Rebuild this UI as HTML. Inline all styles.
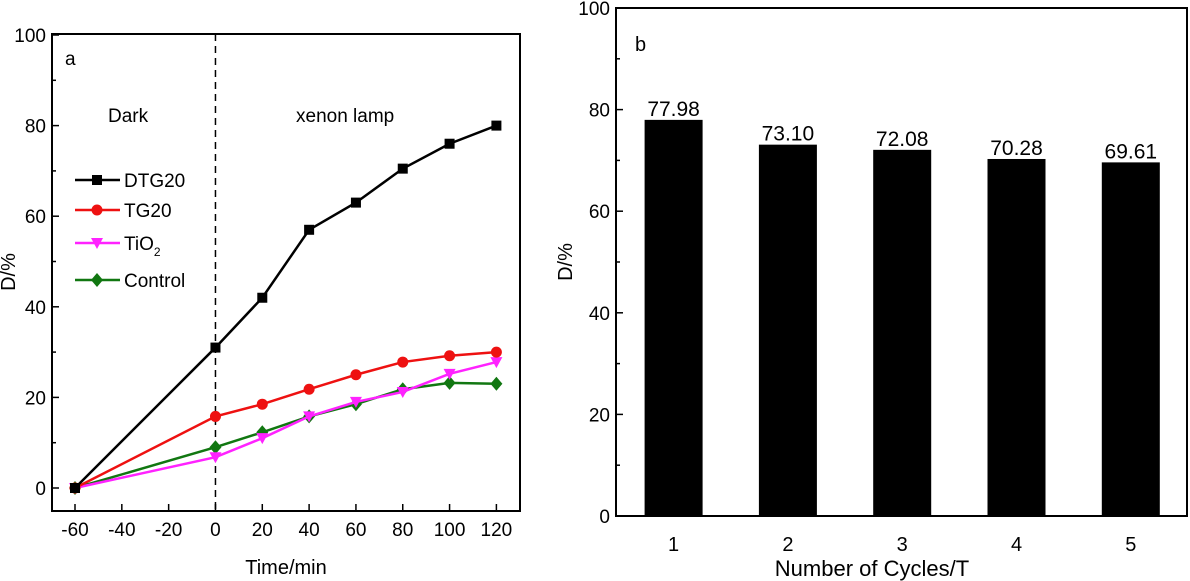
<!DOCTYPE html>
<html><head><meta charset="utf-8">
<style>
html,body{margin:0;padding:0;background:#fff;}
svg{display:block;font-family:"Liberation Sans",Arial,sans-serif;}
</style></head>
<body>
<svg id="chart" width="1190" height="581" viewBox="0 0 1190 581" xmlns="http://www.w3.org/2000/svg"></svg>
<script>
const timeCats = [-60, 0, 20, 40, 60, 80, 100, 120];
const dtg20 = [0, 31, 42, 57, 63, 70.5, 76, 80];
const tg20 = [0, 15.8, 18.5, 21.8, 25, 27.8, 29.2, 30];
const tio2 = [0, 6.8, 11, 15.8, 19, 21.2, 25.2, 27.8];
const control = [0, 9, 12.3, 15.8, 18.5, 21.8, 23.2, 23];
const xTicksA = [-60, -40, -20, 0, 20, 40, 60, 80, 100, 120];
const yTicks = [0, 20, 40, 60, 80, 100];
const cycles = ["1", "2", "3", "4", "5"];
const cycleValues = [77.98, 73.10, 72.08, 70.28, 69.61];
const cycleLabels = ["77.98", "73.10", "72.08", "70.28", "69.61"];

const NS = "http://www.w3.org/2000/svg";
const svg = document.getElementById("chart");
function mk(tag, attrs, parent, text) {
  const e = document.createElementNS(NS, tag);
  for (const k in attrs) e.setAttribute(k, attrs[k]);
  if (text !== undefined) e.textContent = text;
  (parent || svg).appendChild(e);
  return e;
}

// ---- Panel A ----
const A = {l: 52, r: 520, t: 34, b: 511};
const xa = v => 75 + (v + 60) * (496.4 - 75) / 180;
const ya = v => 488 - v * 4.53;
const gA = mk("g", {});


let e = mk("rect", {x: A.l, y: A.t, width: A.r - A.l, height: A.b - A.t, fill: "none", stroke: "#000", "stroke-width": 2}, gA);


// y ticks
for (let v = 0; v <= 100; v += 10) {
  const major = v % 20 === 0;
  mk("line", {x1: A.l, x2: A.l + (major ? 7 : 4), y1: ya(v), y2: ya(v), stroke: "#000", "stroke-width": 1.5}, gA);
}
yTicks.forEach(v => {
  const t = mk("text", {x: A.l - 6, y: ya(v) + 7, "text-anchor": "end", "font-size": 19}, gA, String(v));
  
  
});
for (let v = -60; v <= 120; v += 20) {
  mk("line", {x1: xa(v), x2: xa(v), y1: A.b, y2: A.b - 7, stroke: "#000", "stroke-width": 1.5}, gA);
}
xTicksA.forEach(v => {
  const t = mk("text", {x: xa(v), y: 536, "text-anchor": "middle", "font-size": 19}, gA, String(v));
  
  
});
e = mk("text", {x: 286, y: 574, "text-anchor": "middle", "font-size": 20}, gA, "Time/min");


e = mk("text", {x: 0, y: 0, "text-anchor": "middle", "font-size": 20, transform: "translate(15,272) rotate(-90)"}, gA, "D/%");


e = mk("line", {x1: xa(0), x2: xa(0), y1: A.t, y2: A.b, stroke: "#000", "stroke-width": 1.5, "stroke-dasharray": "7,5"}, gA);


e = mk("text", {x: 65, y: 65, "font-size": 19}, gA, "a");


e = mk("text", {x: 108, y: 122, "font-size": 19}, gA, "Dark");


e = mk("text", {x: 296, y: 122, "font-size": 19}, gA, "xenon lamp");



function marker(g, shape, x, y, c) {
  let m;
  if (shape === "square") m = mk("rect", {x: x - 5, y: y - 5, width: 10, height: 10, fill: c}, g);
  else if (shape === "circle") m = mk("circle", {cx: x, cy: y, r: 5.5, fill: c}, g);
  else if (shape === "tri") m = mk("polygon", {points: `${x-6},${y-5} ${x+6},${y-5} ${x},${y+6}`, fill: c}, g);
  else m = mk("polygon", {points: `${x},${y-7} ${x+6},${y} ${x},${y+7} ${x-6},${y}`, fill: c}, g);
  
  
}
const series = [
  {name: "DTG20", vals: dtg20, color: "#000000", shape: "square", ly: 180},
  {name: "TG20", vals: tg20, color: "#ee1111", shape: "circle", ly: 210},
  {name: "TiO2", vals: tio2, color: "#ff22ff", shape: "tri", ly: 243},
  {name: "Control", vals: control, color: "#117711", shape: "diamond", ly: 280}
];
series.slice().reverse().forEach(s => {
  const g = mk("g", {}, gA);
  
  
  const pts = timeCats.map((t, i) => xa(t) + "," + ya(s.vals[i])).join(" ");
  mk("polyline", {points: pts, fill: "none", stroke: s.color, "stroke-width": 2.5}, g);
  timeCats.forEach((t, i) => marker(g, s.shape, xa(t), ya(s.vals[i]), s.color));
});
series.forEach(s => {
  const g = mk("g", {}, gA);
  
  
  mk("line", {x1: 75, x2: 120, y1: s.ly, y2: s.ly, stroke: s.color, "stroke-width": 2.5}, g);
  marker(g, s.shape, 97, s.ly, s.color);
  const t = mk("text", {x: 124, y: s.ly + 7, "font-size": 19}, g);
  if (s.name === "TiO2") {
    t.textContent = "TiO";
    mk("tspan", {"font-size": 12, dy: 6}, t, "2");
  } else t.textContent = s.name;
});

// ---- Panel B ----
const B = {l: 616, r: 1187, t: 8, b: 516};
const yb = v => B.b - v * (B.b - B.t) / 100;
const xb = i => 673.6 + i * 114.3;
const gB = mk("g", {});


cycles.forEach((c, i) => {
  const r = mk("rect", {x: xb(i) - 29, y: yb(cycleValues[i]), width: 58, height: B.b - yb(cycleValues[i]), fill: "#000"}, gB);
  
  
  const t = mk("text", {x: xb(i), y: yb(cycleValues[i]) - 4, "text-anchor": "middle", "font-size": 21}, gB, cycleLabels[i]);
  
  
  const tl = mk("text", {x: xb(i), y: 551, "text-anchor": "middle", "font-size": 20}, gB, c);
  
  
});
e = mk("rect", {x: B.l, y: B.t, width: B.r - B.l, height: B.b - B.t, fill: "none", stroke: "#000", "stroke-width": 2}, gB);


for (let v = 0; v <= 100; v += 10) {
  const major = v % 20 === 0;
  mk("line", {x1: B.l, x2: B.l + (major ? 7 : 4), y1: yb(v), y2: yb(v), stroke: "#000", "stroke-width": 1.5}, gB);
}
yTicks.forEach(v => {
  const t = mk("text", {x: B.l - 6, y: yb(v) + 7, "text-anchor": "end", "font-size": 19}, gB, String(v));
  
  
});
e = mk("text", {x: 0, y: 0, "text-anchor": "middle", "font-size": 20, transform: "translate(572,262) rotate(-90)"}, gB, "D/%");


e = mk("text", {x: 872, y: 576, "text-anchor": "middle", "font-size": 22}, gB, "Number of Cycles/T");


e = mk("text", {x: 635, y: 51, "font-size": 20}, gB, "b");


</script>
</body></html>
